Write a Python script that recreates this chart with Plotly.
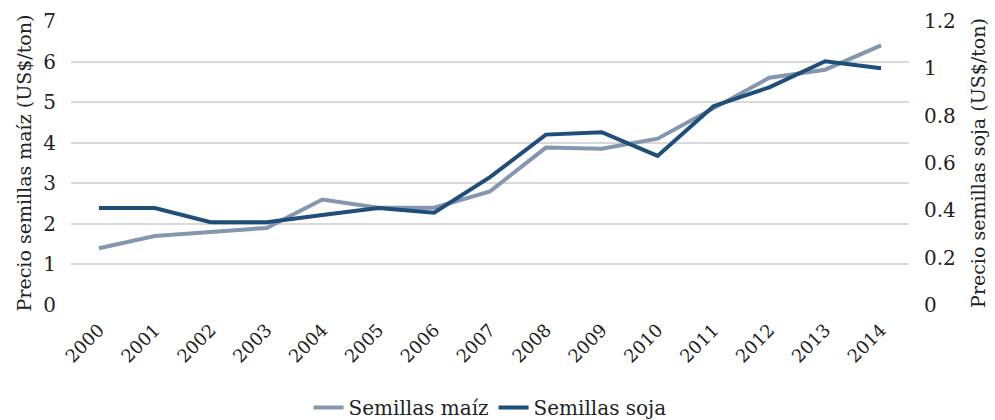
import plotly.graph_objects as go

# Annual seed prices, 2000-2014
years = ["2000", "2001", "2002", "2003", "2004", "2005", "2006", "2007",
         "2008", "2009", "2010", "2011", "2012", "2013", "2014"]
maiz = [1.4, 1.7, 1.8, 1.9, 2.6, 2.4, 2.4, 2.8, 3.88, 3.85, 4.1, 4.85, 5.6, 5.8, 6.4]
soja = [0.41, 0.41, 0.35, 0.35, 0.38, 0.41, 0.39, 0.54, 0.72, 0.73, 0.63, 0.84, 0.92, 1.03, 1.0]

FONT = "DejaVu Serif"
MAIZ_COLOR = "#8497b0"
SOJA_COLOR = "#1f4e79"

fig = go.Figure()
fig.add_trace(go.Scatter(
    x=years, y=maiz, name="Semillas maíz", mode="lines",
    line=dict(color=MAIZ_COLOR, width=4), yaxis="y"))
fig.add_trace(go.Scatter(
    x=years, y=soja, name="Semillas soja", mode="lines",
    line=dict(color=SOJA_COLOR, width=4), yaxis="y2"))

fig.update_layout(
    width=995, height=420,
    margin=dict(l=71, r=86, t=21, b=115),
    paper_bgcolor="white", plot_bgcolor="white",
    font=dict(family=FONT, size=20, color="#222222"),
    showlegend=True,
    legend=dict(orientation="h", x=0.5, xanchor="center", yref="container",
                y=0.03, yanchor="middle",
                font=dict(family=FONT, size=20), traceorder="normal"),
    xaxis=dict(
        type="category", range=[-0.5, 14.5], tickangle=-45, showgrid=False,
        showline=False, zeroline=False, tickfont=dict(family=FONT, size=18),
        ticks="", automargin=False, ticklabelstandoff=10,
    ),
    yaxis=dict(
        range=[0, 7], dtick=1, showgrid=True, gridcolor="#d9d9d9", gridwidth=2,
        zeroline=False, showline=False, ticks="", ticklabelstandoff=14,
        automargin=False, tickfont=dict(family=FONT, size=20),
        title=dict(text="Precio semillas maíz (US$/ton)", standoff=6,
                   font=dict(family=FONT, size=19)),
    ),
    yaxis2=dict(
        range=[0, 1.2], dtick=0.2, overlaying="y", side="right", showgrid=False,
        zeroline=False, showline=False, ticks="", ticklabelstandoff=14,
        automargin=False, tickfont=dict(family=FONT, size=20),
        title=dict(text="Precio semillas soja (US$/ton)", standoff=16,
                   font=dict(family=FONT, size=19)),
    ),
)

fig.write_html("out.html")
